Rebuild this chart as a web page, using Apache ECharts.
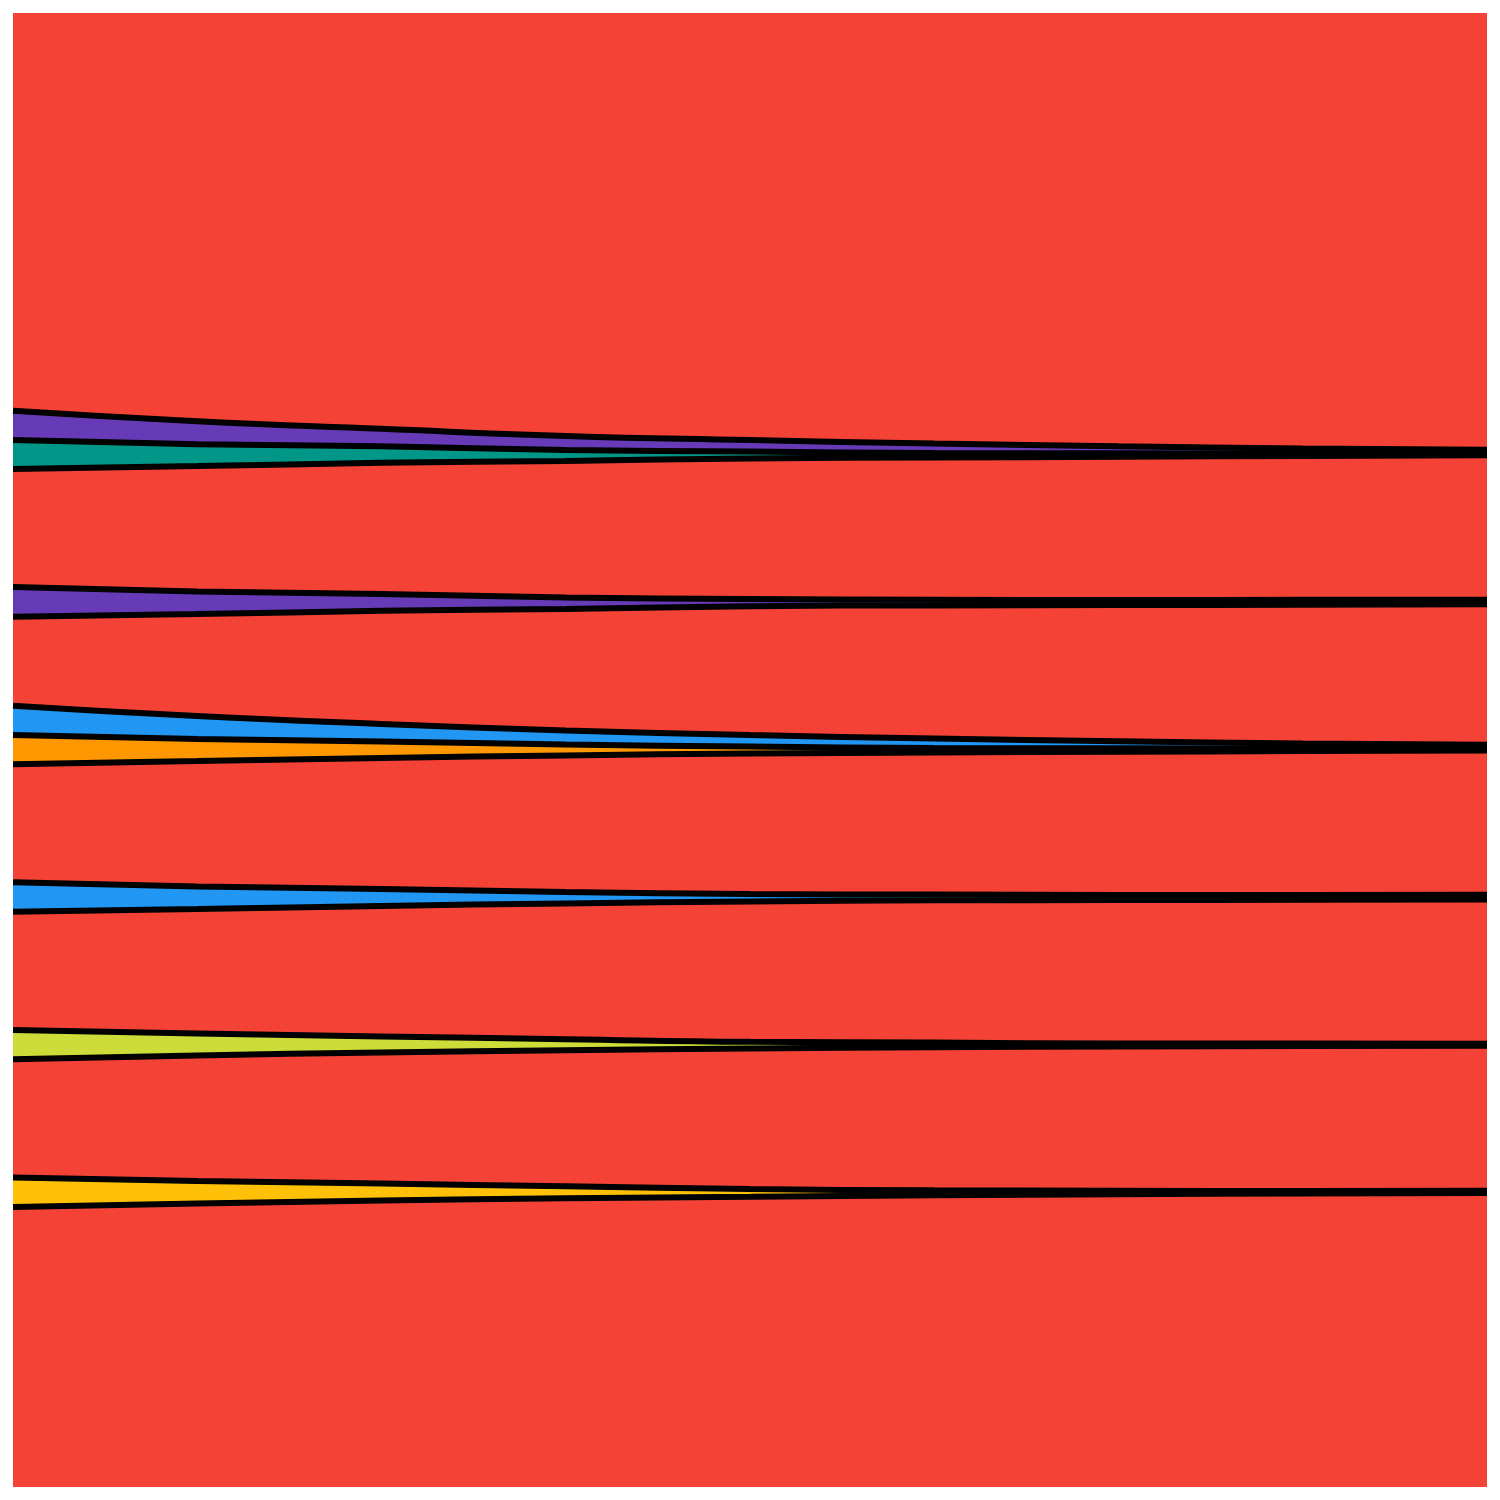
<!DOCTYPE html>
<html>
<head>
<meta charset="utf-8">
<script src="https://cdn.jsdelivr.net/npm/echarts@6/dist/echarts.min.js"></script>
<style>
html,body{margin:0;padding:0;background:#ffffff;}
#chart{width:1500px;height:1500px;}
</style>
</head>
<body>
<div id="chart"></div>
<script>
// x positions (evenly spaced samples across the plot)
const xs = ['0', '1', '2', '3', '4', '5', '6', '7', '8'];

// layers from bottom to top (percent of total)
const red1     = [19.00, 19.23, 19.44, 19.59, 19.69, 19.79, 19.86, 19.91, 19.95];
const amber    = [1.99, 1.53, 1.15, 0.81, 0.52, 0.34, 0.24, 0.17, 0.14];
const red2     = [8.03, 8.51, 8.89, 9.23, 9.54, 9.71, 9.79, 9.84, 9.84];
const lime     = [1.99, 1.49, 1.09, 0.75, 0.45, 0.31, 0.20, 0.16, 0.14];
const red3     = [8.01, 8.45, 8.85, 9.21, 9.53, 9.65, 9.73, 9.76, 9.79];
const blueB    = [2.01, 1.53, 1.15, 0.78, 0.50, 0.39, 0.35, 0.33, 0.32];
const red4     = [8.01, 8.51, 8.89, 9.26, 9.53, 9.64, 9.71, 9.76, 9.79];
const orange   = [1.97, 1.49, 1.12, 0.75, 0.47, 0.31, 0.24, 0.17, 0.14];
const blueA    = [1.99, 1.56, 1.19, 0.95, 0.78, 0.64, 0.47, 0.34, 0.24];
const red5     = [6.04, 6.92, 7.67, 8.24, 8.74, 9.03, 9.24, 9.42, 9.53];
const purpleB  = [2.01, 1.53, 1.15, 0.78, 0.50, 0.39, 0.35, 0.33, 0.32];
const red6     = [8.01, 8.51, 8.89, 9.26, 9.53, 9.64, 9.71, 9.76, 9.79];
const teal     = [1.97, 1.49, 1.12, 0.75, 0.47, 0.31, 0.24, 0.17, 0.14];
const purpleA  = [1.99, 1.56, 1.19, 0.95, 0.78, 0.64, 0.47, 0.34, 0.24];
const red7     = [27.00, 27.68, 28.22, 28.63, 28.98, 29.21, 29.40, 29.56, 29.66];

const RED = '#F44336';
const layers = [
  {name: 'red1', data: red1, color: RED, line: true},
  {name: 'amber', data: amber, color: '#FFC107', line: true},
  {name: 'red2', data: red2, color: RED, line: true},
  {name: 'lime', data: lime, color: '#CDDC39', line: true},
  {name: 'red3', data: red3, color: RED, line: true},
  {name: 'blueB', data: blueB, color: '#2196F3', line: true},
  {name: 'red4', data: red4, color: RED, line: true},
  {name: 'orange', data: orange, color: '#FF9800', line: true},
  {name: 'blueA', data: blueA, color: '#2196F3', line: true},
  {name: 'red5', data: red5, color: RED, line: true},
  {name: 'purpleB', data: purpleB, color: '#673AB7', line: true},
  {name: 'red6', data: red6, color: RED, line: true},
  {name: 'teal', data: teal, color: '#009688', line: true},
  {name: 'purpleA', data: purpleA, color: '#673AB7', line: true},
  {name: 'red7', data: red7, color: RED, line: false}
];

const SMOOTH = 0.5;
const series = [];
layers.forEach(function (l) {
  series.push({
    name: l.name,
    type: 'line',
    stack: 'area',
    data: l.data,
    smooth: SMOOTH,
    showSymbol: false,
    symbol: 'none',
    lineStyle: {width: 0, opacity: 0},
    areaStyle: {color: l.color, opacity: 1},
    silent: true,
    z: 2
  });
});
layers.forEach(function (l) {
  series.push({
    name: l.name + '_edge',
    type: 'line',
    stack: 'edge',
    data: l.data,
    smooth: SMOOTH,
    showSymbol: false,
    symbol: 'none',
    lineStyle: {width: l.line ? 6 : 0, color: '#000000', opacity: l.line ? 1 : 0},
    silent: true,
    z: 3
  });
});

const chart = echarts.init(document.getElementById('chart'));
chart.setOption({
  backgroundColor: '#ffffff',
  animation: false,
  grid: {left: 13, right: 13, top: 13, bottom: 13, show: true, backgroundColor: RED, borderWidth: 0},
  xAxis: {type: 'category', data: xs, boundaryGap: false, show: false},
  yAxis: {type: 'value', min: 0, max: 100, show: false},
  series: series
});
</script>
</body>
</html>
